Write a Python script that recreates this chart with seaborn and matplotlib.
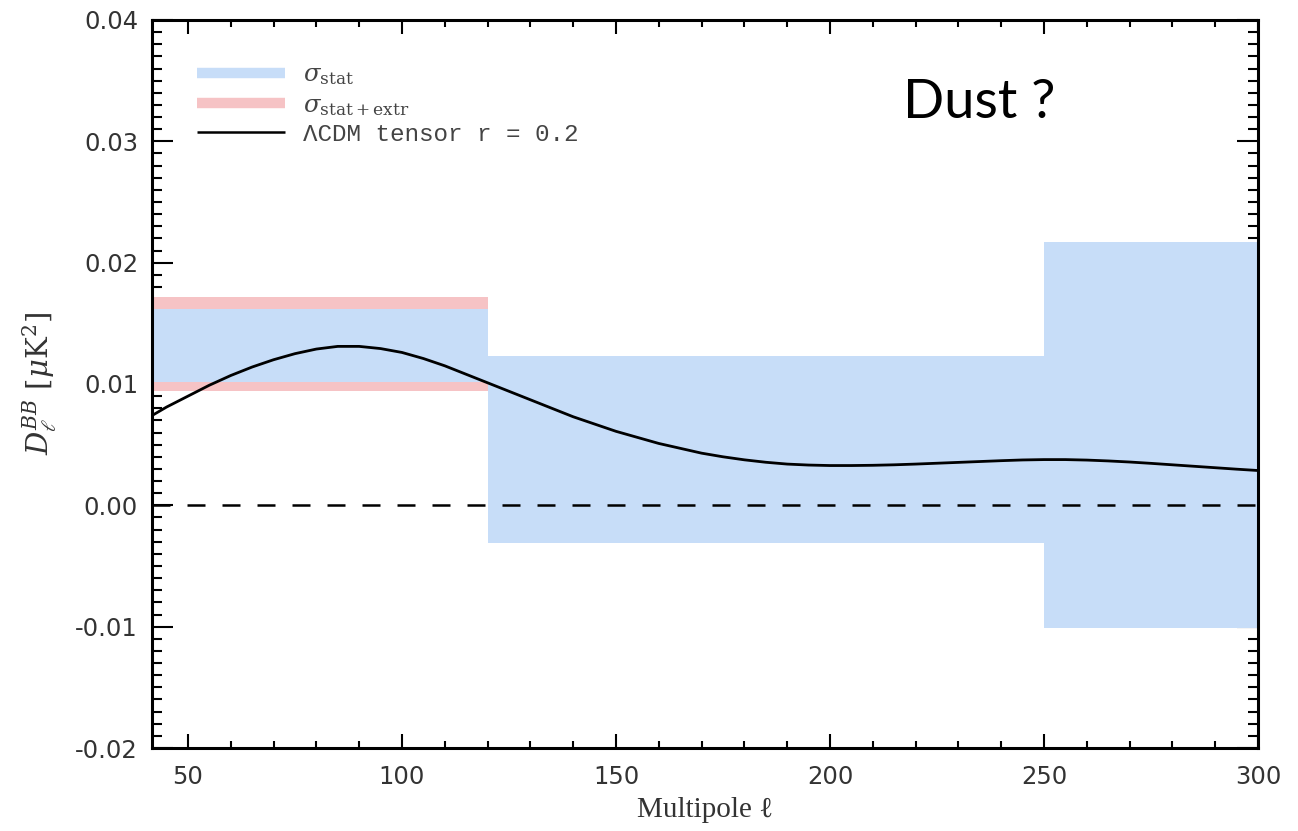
import numpy as np
import pandas as pd
import matplotlib
matplotlib.use("Agg")
import matplotlib.pyplot as plt
from matplotlib.lines import Line2D
from matplotlib.ticker import MultipleLocator, FormatStrFormatter
import seaborn as sns

# Band powers: bin edges and 1-sigma ranges
bin_edges = [41.6, 120, 250, 300]
stat_lo = [0.0102, -0.0031, -0.0101]
stat_hi = [0.0162, 0.0123, 0.0217]
extr_lo = [0.0094, -0.0031, -0.0101]
extr_hi = [0.0172, 0.0123, 0.0217]

# LCDM BB spectrum with tensor r = 0.2
ell = [41.6, 45, 50, 55, 60, 65, 70, 75, 80, 85, 90, 95, 100, 105, 110, 115,
       120, 125, 130, 135, 140, 145, 150, 155, 160, 165, 170, 175, 180, 185,
       190, 195, 200, 205, 210, 215, 220, 225, 230, 235, 240, 245, 250, 255,
       260, 265, 270, 275, 280, 285, 290, 295, 300]
dl_bb = [0.0074, 0.0081, 0.0090, 0.0099, 0.0107, 0.0114, 0.0120, 0.0125, 0.01288,
         0.01310, 0.01310, 0.01292, 0.0126, 0.0121, 0.0115, 0.0108,
         0.0101, 0.0094, 0.0087, 0.0080, 0.0073, 0.0067, 0.0061, 0.0056,
         0.0051, 0.0047, 0.0043, 0.00400, 0.00375, 0.00355,
         0.00340, 0.00332, 0.00328, 0.00328, 0.00330, 0.00334, 0.00340, 0.00347,
         0.00354, 0.00361, 0.00368, 0.00374, 0.00377, 0.00377,
         0.00373, 0.00366, 0.00357, 0.00346, 0.00334, 0.00322, 0.00310,
         0.00298, 0.00287]

x_limits = (41.6, 300)
y_limits = (-0.02, 0.04)

blue = "#c7ddf8"
red = "#f6c3c5"

sns.set_theme(style="ticks")
plt.rcParams["mathtext.fontset"] = "dejavuserif"

fig = plt.figure(figsize=(12.98, 8.31), dpi=100)
ax = fig.add_axes([152 / 1298, 1 - 748 / 831, (1258 - 152) / 1298, (748 - 20) / 831])

# step-filled bands
xs = bin_edges
def stepped(v):
    return list(v) + [v[-1]]

ax.fill_between(xs, stepped(extr_lo), stepped(extr_hi), step="post",
                color=red, lw=0, zorder=1)
ax.fill_between(xs, stepped(stat_lo), stepped(stat_hi), step="post",
                color=blue, lw=0, zorder=2)

ax.axhline(0, color="black", lw=1.8, dashes=(7.2, 6.8), zorder=3)

curve = pd.DataFrame({"ell": ell, "dl": dl_bb})
sns.lineplot(data=curve, x="ell", y="dl", color="black", lw=2.0, ax=ax,
             zorder=4, sort=True, estimator=None)

ax.set_xlim(*x_limits)
ax.set_ylim(*y_limits)

ax.xaxis.set_major_locator(MultipleLocator(50))
ax.xaxis.set_minor_locator(MultipleLocator(10))
ax.yaxis.set_major_locator(MultipleLocator(0.01))
ax.yaxis.set_minor_locator(MultipleLocator(0.001))
ax.yaxis.set_major_formatter(FormatStrFormatter("%.2f"))

ax.tick_params(which="both", direction="in", top=True, right=True,
               color="black", width=1.5, labelcolor="#333333", labelsize=17.5)
ax.tick_params(axis="x", which="major", length=10, pad=12)
ax.tick_params(axis="x", which="minor", length=5)
ax.tick_params(axis="y", which="major", length=15, pad=10)
ax.tick_params(axis="y", which="minor", length=7)
for lab in ax.get_xticklabels() + ax.get_yticklabels():
    lab.set_family("DejaVu Sans")

for sp in ax.spines.values():
    sp.set_linewidth(2.2)
    sp.set_color("black")
    sp.set_zorder(6)

ax.set_xlabel("Multipole ℓ", family=["Liberation Serif", "DejaVu Serif"],
              fontsize=21, color="#333333", labelpad=6)
ax.set_ylabel(r"$D_\ell^{BB}\ [\mu{\rm K}^2]$", fontsize=21, color="#333333",
              labelpad=12)

handles = [
    Line2D([0], [0], color=blue, lw=7.5, solid_capstyle="butt"),
    Line2D([0], [0], color=red, lw=7.5, solid_capstyle="butt"),
    Line2D([0], [0], color="black", lw=1.8, solid_capstyle="butt"),
]
labels = [r"$\sigma_{\rm stat}$", r"$\sigma_{\rm stat+extr}$", "ΛCDM tensor r = 0.2"]
leg = ax.legend(handles, labels, loc="upper left", bbox_to_anchor=(0.032, 0.955),
                frameon=False, fontsize=17.5, handlelength=3.6, handletextpad=0.75,
                labelspacing=0.22, borderaxespad=0)
for t in leg.get_texts():
    t.set_color("#444444")
leg.get_texts()[2].set_family(["Liberation Mono", "DejaVu Sans Mono"])

fig.text(903 / 1298, 1 - 102 / 831, "Dust ?", family=["Lato", "DejaVu Sans"],
         fontsize=39, color="black", va="center", ha="left")

fig.savefig("out.png", dpi=100, facecolor="white")
